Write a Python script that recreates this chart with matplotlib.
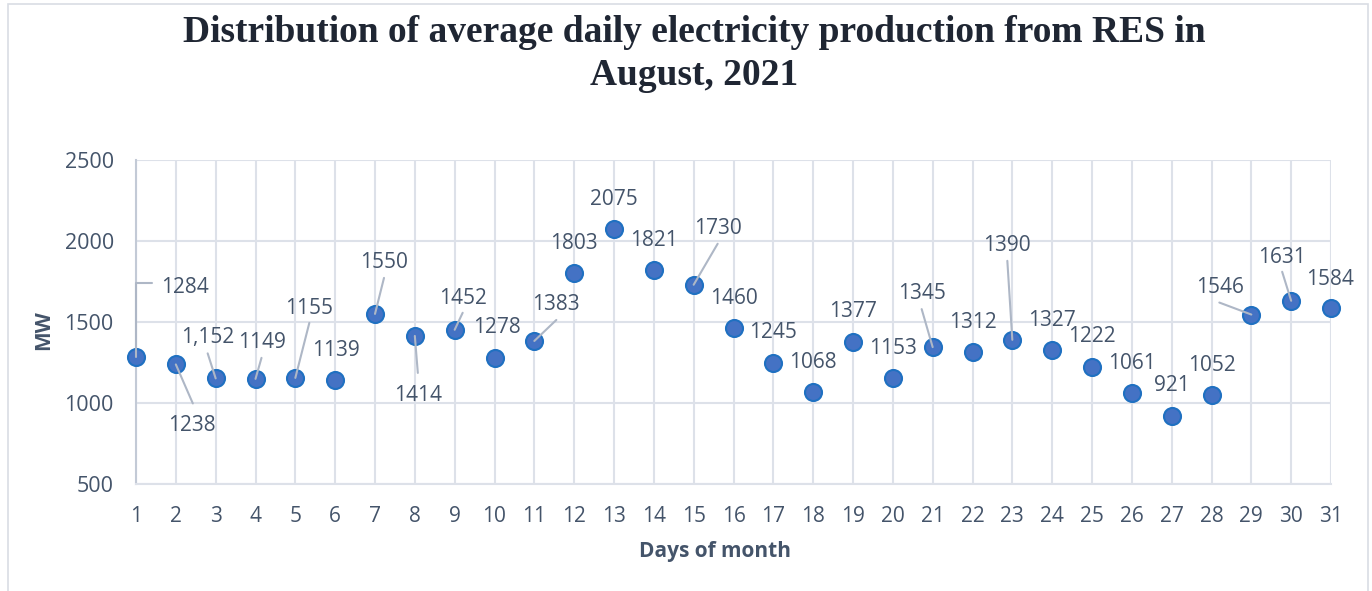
import matplotlib
matplotlib.use("Agg")
import matplotlib.pyplot as plt
from matplotlib.patches import Rectangle

# ---- data ----
days = list(range(1, 32))
mw = [1284, 1238, 1152, 1149, 1155, 1139, 1550, 1414, 1452, 1278, 1383,
      1803, 2075, 1821, 1730, 1460, 1245, 1068, 1377, 1153, 1345, 1312,
      1390, 1327, 1222, 1061, 921, 1052, 1546, 1631, 1584]
value_labels = ["1284", "1238", "1,152", "1149", "1155", "1139", "1550", "1414",
                "1452", "1278", "1383", "1803", "2075", "1821", "1730", "1460",
                "1245", "1068", "1377", "1153", "1345", "1312", "1390", "1327",
                "1222", "1061", "921", "1052", "1546", "1631", "1584"]
y_ticks = [500, 1000, 1500, 2000, 2500]
title = "Distribution of average daily electricity production from RES in\nAugust, 2021"
x_title = "Days of month"
y_title = "MW"

# ---- label placement (pixel offsets from the point) ----
label_offsets = [(49, 72), (16, -59), (-8, 43), (6, 39), (14, 72), (1, 32), (9, 54),
                 (3, -57), (8, 34), (2, 33), (22, 39), (0, 32), (0, 32), (0, 32),
                 (24, 59), (0, 32), (0, 33), (0, 32), (0, 33), (0, 32), (-11, 56),
                 (0, 32), (-5, 97), (0, 32), (0, 33), (0, 32), (0, 33), (0, 32),
                 (-31, 30), (-9, 46), (-1, 31)]
leaders = {1: (16, 74), 2: (17, -39), 3: (-8, 25), 4: (6, 21), 5: (14, 55),
           7: (9, 36), 8: (3, -37), 9: (8, 17), 11: (22, 21), 15: (24, 41),
           21: (-11, 38), 23: (-5, 79), 29: (-32, 12), 30: (-9, 29)}

W, H, DPI = 1372, 591, 100
fig = plt.figure(figsize=(W / DPI, H / DPI), dpi=DPI)
fig.patch.set_facecolor("white")
fig.patches.append(Rectangle((8 / W, -0.01), 1360 / W, 1 - 4 / H + 0.01,
                             transform=fig.transFigure, fill=False,
                             edgecolor="#D9DDE4", linewidth=1.2))

ax = fig.add_axes([136 / W, 1 - 484 / H, (1331 - 136) / W, (484 - 160) / H])
txt_color = "#44546A"
font = "Open Sans"

ax.set_xlim(1, 31)
ax.set_ylim(500, 2500)
ax.set_xticks(days)
ax.set_yticks(y_ticks)
ax.set_xticklabels([str(d) for d in days], fontsize=15, color=txt_color, family=font)
ax.set_yticklabels([str(v) for v in y_ticks], fontsize=15.5, color=txt_color, family=font)
ax.tick_params(axis="x", length=0, pad=16)
ax.tick_params(axis="y", length=0, pad=16)
ax.grid(True, color="#DDE1E9", linewidth=1.5)
ax.set_axisbelow(True)
for s in ["top", "right"]:
    ax.spines[s].set_visible(False)
ax.spines["left"].set_color("#C3CAD6")
ax.spines["left"].set_linewidth(1.5)
ax.spines["bottom"].set_color("#DDE1E9")
ax.spines["bottom"].set_linewidth(1.5)

ax.scatter(days, mw, s=150, facecolor="#4472C4", edgecolor="#1F70C1",
           linewidth=1.5, zorder=3, clip_on=False)

for i, (d, v) in enumerate(zip(days, mw)):
    if d in leaders:
        off = leaders[d]
        if d == 1:
            cs = "angle,angleA=0,angleB=90,rad=0"
        else:
            cs = "arc3"
        ax.annotate("", xy=(d, v), xytext=off, textcoords="offset pixels",
                    arrowprops=dict(arrowstyle="-", color="#AEB7C6", lw=1.5,
                                    shrinkA=0, shrinkB=0, connectionstyle=cs),
                    annotation_clip=False, zorder=4)
    ax.annotate(value_labels[i], xy=(d, v), xytext=label_offsets[i],
                textcoords="offset pixels", ha="center", va="center_baseline",
                fontsize=15, color=txt_color, family=font,
                annotation_clip=False, zorder=5)

fig.text(715 / W, 1 - 552 / H, x_title, ha="center", va="center", fontsize=15,
         fontweight="bold", color=txt_color, family=font)
fig.text(44 / W, 1 - 330 / H, y_title, ha="center", va="center", fontsize=15,
         fontweight="bold", color=txt_color, family=font, rotation=90)
fig.text(694 / W, 1 - 54 / H, title, ha="center", va="center", fontsize=27,
         fontweight="bold", color="#1F2633", family="Liberation Serif",
         linespacing=1.3)

fig.savefig("out.png", dpi=DPI)
